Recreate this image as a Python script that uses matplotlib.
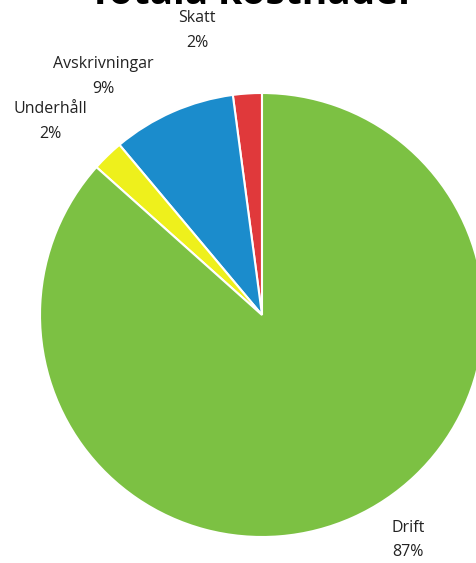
import matplotlib.pyplot as plt

# Data (kostnadsfördelning)
kategorier = ["Skatt", "Avskrivningar", "Underhåll", "Drift"]
andelar = [2.1, 9.0, 2.3, 86.6]
procent_etiketter = ["2%", "9%", "2%", "87%"]
farger = ["#e0393b", "#1b8ccc", "#eef01c", "#7cc143"]

plt.rcParams["font.family"] = ["Open Sans", "DejaVu Sans"]

fig = plt.figure(figsize=(4.76, 5.63), dpi=100)
ax = fig.add_axes([0, 0, 1, 1])

R = 222.0
cx, cy = 262.0, 315.0
ax.pie(andelar, colors=farger, startangle=90, counterclock=True,
       radius=1.0, wedgeprops=dict(edgecolor="white", linewidth=1.5))

# pixel -> data koordinater
ax.set_xlim(-cx / R, (476 - cx) / R)
ax.set_ylim(-(563 - cy) / R, cy / R)
ax.set_aspect("equal")
ax.axis("off")

# etikettpositioner (pixel, centrum av tvåradig text)
etikett_pos = [(197, 30), (103, 76), (50, 121), (408, 540)]
for namn, pct, (px, py) in zip(kategorier, procent_etiketter, etikett_pos):
    ax.text((px - cx) / R, (cy - py) / R, namn + "\n" + pct,
            ha="center", va="center", fontsize=11.5, color="#222222",
            linespacing=1.75)

# titeln är avskuren i överkanten (som i originalet)
fig.text(0.53, 1 - 4 / 563, "Totala kostnader", ha="center", va="baseline",
         fontsize=28, fontweight="bold", color="black")

plt.savefig("out.png", dpi=100)
